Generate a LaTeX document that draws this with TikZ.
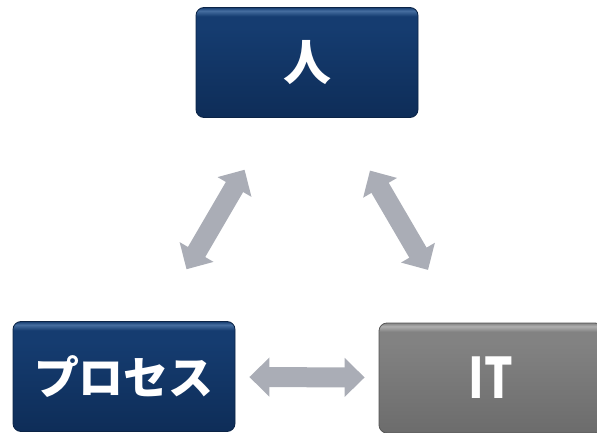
\documentclass[tikz,border=0pt]{standalone}
\usepackage{fontspec}
\newfontfamily\jpfont{Noto Sans CJK JP}
\usetikzlibrary{arrows.meta}
\definecolor{navytop}{RGB}{70,110,160}
\definecolor{navymid}{RGB}{21,60,112}
\definecolor{navybot}{RGB}{14,45,88}
\definecolor{greytop}{RGB}{175,175,175}
\definecolor{greymid}{RGB}{130,130,130}
\definecolor{greybot}{RGB}{108,108,108}
\definecolor{arrowgrey}{RGB}{170,173,182}
\pgfdeclareverticalshading{navyshade}{100bp}{color(0bp)=(navybot); color(25bp)=(navybot); color(66bp)=(navymid); color(71bp)=(navymid); color(73.5bp)=(navytop); color(75bp)=(navymid); color(100bp)=(navymid)}
\pgfdeclareverticalshading{greyshade}{100bp}{color(0bp)=(greybot); color(25bp)=(greybot); color(66bp)=(greymid); color(71bp)=(greymid); color(73.5bp)=(greytop); color(75bp)=(greymid); color(100bp)=(greymid)}
\begin{document}
\begin{tikzpicture}[x=1pt, y=-1pt,
  box/.style={rounded corners=8pt, minimum width=222pt, minimum height=110pt, inner sep=0pt,
    text=white, font=\jpfont\bfseries\fontsize{45}{45}\selectfont},
  navybox/.style={box, shading=navyshade, draw=navybot!80!black, line width=.8pt},
  greybox/.style={box, shading=greyshade, draw=greybot!80!black, line width=.8pt},
  biarrow/.style={arrowgrey, line width=20pt, {Triangle[width=38pt,length=20pt]}-{Triangle[width=38pt,length=20pt]}}]
\useasboundingbox (0,0) rectangle (597,433);

\node[navybox, font=\jpfont\bfseries\fontsize{48}{48}\selectfont] (person) at (307,62.5) {人};
\node[navybox] (process) at (124,376.5) {プロセス};
\node[greybox, minimum width=224pt, font=\jpfont\bfseries\fontsize{56}{56}\selectfont] (it) at (491,378) {\scalebox{.8}[1]{IT}};

\draw[biarrow, shorten <=60pt, shorten >=60pt] (process) -- (person);
\draw[biarrow, shorten <=61pt, shorten >=61pt] (person) -- (it);
\draw[biarrow, shorten <=14pt, shorten >=14pt] (process) -- (it);
\end{tikzpicture}
\end{document}
